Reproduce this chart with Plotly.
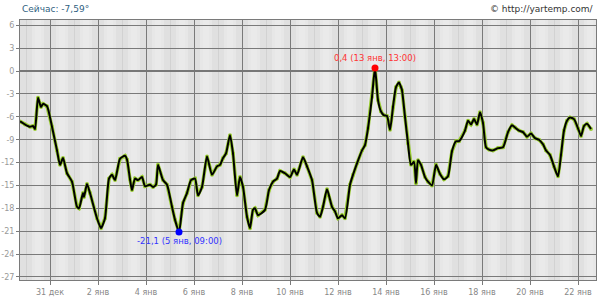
import plotly.graph_objects as go

# hours since 31 Dec 00:00
hours = [-30, -25, -20, -17, -15, -12, -9, -7, -3, 2, 7, 10, 13, 17, 22, 27, 29, 33, 34, 37, 40, 47, 51, 55,
         59, 62, 65, 70, 75, 77, 80, 82, 85, 88, 92, 95, 100, 103, 106, 108, 113, 117, 122, 125, 129, 133, 137,
         141, 145, 148, 152, 157, 162, 167, 170, 173, 176, 180, 183, 187, 190, 193, 197, 200, 203, 205, 208,
         215, 219, 223, 227, 230, 235, 240, 244, 247, 253, 257, 262, 267, 270, 273, 277, 282, 285, 288, 292,
         295, 300, 303, 307, 312, 315, 318, 322, 325, 328, 331, 334, 337, 340, 343, 346, 349, 351, 352, 355,
         358, 361, 364, 366, 368, 371, 375, 378, 382, 386, 390, 394, 398, 402, 406, 409, 415, 418, 421, 424,
         427, 430, 433, 436, 439, 443, 448, 453, 458, 462, 465, 469, 473, 477, 481, 485, 489, 493, 496, 500,
         504, 508, 511, 514, 517, 520, 524, 528, 531, 534, 537, 541, 546]
temps = [-6.6, -7.0, -7.3, -7.2, -7.6, -3.5, -4.7, -4.3, -4.6, -7.3, -10.4, -12.3, -11.4, -13.4, -14.5, -17.8,
         -18.0, -16.0, -16.5, -14.8, -16.0, -19.3, -20.6, -19.3, -14.1, -13.6, -14.3, -11.5, -11.1, -11.6,
         -14.2, -15.6, -14.1, -14.3, -13.9, -15.1, -14.9, -15.2, -14.9, -12.3, -14.3, -14.9, -17.8, -19.5,
         -21.1, -17.3, -16.0, -14.3, -14.1, -16.3, -15.2, -11.2, -13.6, -12.5, -12.3, -11.4, -10.8, -8.4,
         -10.8, -16.3, -13.9, -15.2, -19.1, -20.6, -18.2, -18.0, -18.9, -18.2, -15.6, -14.5, -14.1, -13.1,
         -13.4, -13.9, -12.9, -13.6, -11.3, -12.5, -14.3, -18.6, -19.1, -17.8, -15.5, -17.8, -18.4, -19.3,
         -18.9, -19.3, -14.9, -13.6, -12.1, -10.4, -9.7, -7.5, -3.4, 0.4, -3.8, -5.3, -5.8, -5.9, -7.7, -4.7,
         -2.1, -1.5, -2.1, -2.5, -6.0, -9.5, -12.3, -11.9, -14.7, -11.7, -12.3, -13.9, -14.5, -15.0, -12.3,
         -13.5, -14.2, -13.8, -10.5, -9.2, -9.2, -7.8, -6.5, -7.0, -6.3, -7.0, -5.4, -6.8, -10.0, -10.3,
         -10.4, -10.1, -10.0, -8.0, -7.1, -7.4, -7.8, -8.0, -8.6, -8.2, -8.8, -9.0, -9.6, -10.4, -11.0,
         -12.5, -13.8, -11.0, -7.8, -6.5, -6.1, -6.3, -7.5, -8.5, -7.2, -6.9, -7.6]

tick_hours = [0, 48, 96, 144, 192, 240, 288, 336, 384, 432, 480, 528]
tick_labels = ["31 дек", "2 янв", "4 янв", "6 янв", "8 янв", "10 янв", "12 янв", "14 янв",
               "16 янв", "18 янв", "20 янв", "22 янв"]
y_ticks = [6, 3, 0, -3, -6, -9, -12, -15, -18, -21, -24, -27]

max_h, max_v, max_label = 325, 0.4, "0,4 (13 янв, 13:00)"
min_h, min_v, min_label = 129, -21.1, "-21,1 (5 янв, 09:00)"
now_text = "Сейчас: -7,59°"
site_text = "© http://yartemp.com/"

x0, x1 = -30, 546
y0, y1 = -27.4, 6.7

fig = go.Figure()
fig.add_trace(go.Scatter(x=hours, y=temps, mode="lines+markers",
                         line=dict(color="#9acd32", width=3.5),
                         marker=dict(color="#9acd32", size=4), hoverinfo="skip"))
fig.add_trace(go.Scatter(x=hours, y=temps, mode="lines",
                         line=dict(color="#000000", width=2, shape="spline", smoothing=0.6)))
fig.add_trace(go.Scatter(x=[max_h], y=[max_v], mode="markers",
                         marker=dict(color="#ff0000", size=7)))
fig.add_trace(go.Scatter(x=[min_h], y=[min_v], mode="markers",
                         marker=dict(color="#0000ff", size=7)))

shapes = []
d = -48
while d < x1 + 24:
    s, e = max(d + 6, x0), min(d + 18, x1)
    if e > s:
        shapes.append(dict(type="rect", xref="x", yref="y", x0=s, x1=e, y0=y0, y1=y1,
                           fillcolor="#e7e7e7", line=dict(width=0), layer="below"))
    s2, e2 = max(d + 9, x0), min(d + 15, x1)
    if e2 > s2:
        shapes.append(dict(type="rect", xref="x", yref="y", x0=s2, x1=e2, y0=y0, y1=y1,
                           fillcolor="#eaeaea", line=dict(width=0), layer="below"))
    d += 24

fig.update_layout(
    width=616, height=300,
    margin=dict(l=20, r=20, t=20, b=20),
    paper_bgcolor="#ffffff", plot_bgcolor="#e0e0e0",
    showlegend=False,
    shapes=shapes,
    font=dict(family="DejaVu Sans", size=8, color="#888888"),
    annotations=[
        dict(x=max_h, y=max_v, text=max_label, showarrow=False, yshift=10,
             font=dict(color="#ff3333", size=8.5, family="DejaVu Sans")),
        dict(x=min_h, y=min_v, text=min_label, showarrow=False, yshift=-9,
             font=dict(color="#3333ff", size=8.5, family="DejaVu Sans")),
        dict(xref="paper", yref="paper", x=0, y=1.042, xanchor="left", yanchor="middle",
             text=now_text, showarrow=False, font=dict(color="#2f5f7f", size=9, family="DejaVu Sans")),
        dict(xref="paper", yref="paper", x=1, y=1.042, xanchor="right", yanchor="middle",
             text=site_text, showarrow=False, font=dict(color="#333333", size=9, family="DejaVu Sans")),
    ],
)
fig.update_xaxes(range=[x0, x1], tickmode="array", tickvals=tick_hours, ticktext=tick_labels,
                 automargin=False,
                 showgrid=True, gridcolor="#7a7a7a", gridwidth=1,
                 minor=dict(tickmode="linear", tick0=0, dtick=24, showgrid=True, gridcolor="#d2d2d2",
                            gridwidth=1, ticks=""),
                 ticks="outside", ticklen=4, tickcolor="#7a7a7a",
                 showline=True, linecolor="#7a7a7a", linewidth=1, mirror=True, zeroline=False,
                 tickfont=dict(color="#888888", size=8))
fig.update_yaxes(range=[y0, y1], tickmode="array", tickvals=y_ticks, ticktext=[str(v) for v in y_ticks],
                 automargin=False,
                 showgrid=True, gridcolor="#7a7a7a", gridwidth=1,
                 zeroline=True, zerolinecolor="#777777", zerolinewidth=2,
                 ticks="outside", ticklen=3, tickcolor="#7a7a7a",
                 showline=True, linecolor="#7a7a7a", linewidth=1, mirror=True,
                 tickfont=dict(color="#999999", size=8))

fig.write_html("out.html")
